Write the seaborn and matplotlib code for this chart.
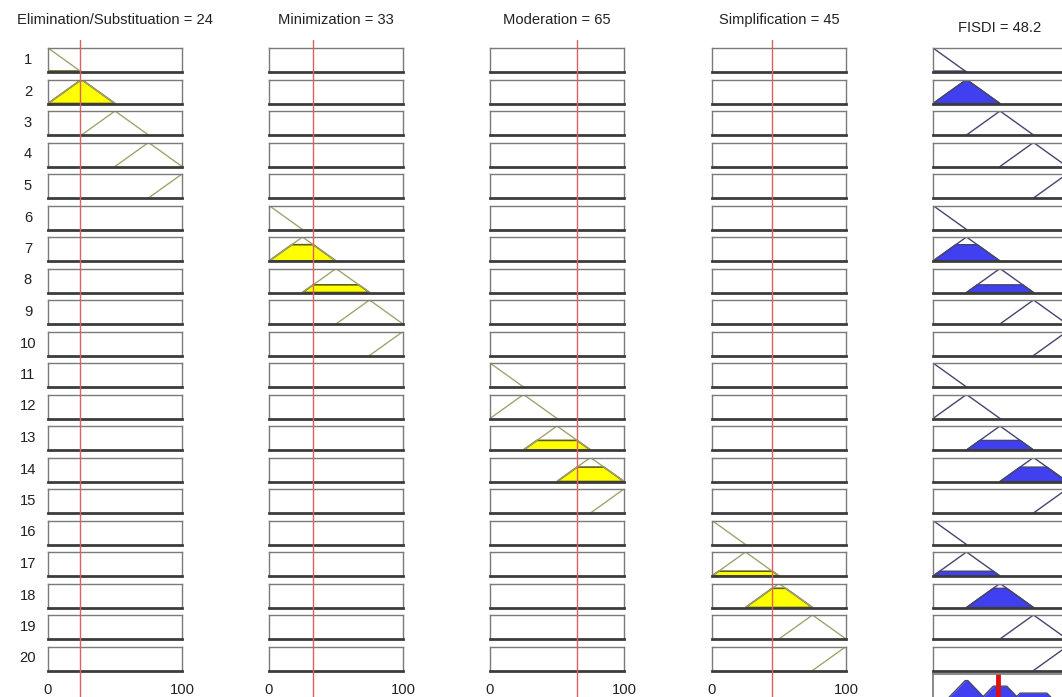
import numpy as np
import matplotlib
matplotlib.use("Agg")
import matplotlib.pyplot as plt
import seaborn as sns

# inputs / output of the fuzzy system
input_names = ["Elimination/Substituation", "Minimization", "Moderation", "Simplification"]
input_values = [24, 33, 65, 45]
output_name = "FISDI"
output_value = 48.2

# triangular membership functions (same for every variable)
mf_centers = [0, 25, 50, 75, 100]
mf_halfwidth = 25

# each rule: which input it tests, which MF (same MF index for the output)
rule_input = [0, 0, 0, 0, 0, 1, 1, 1, 1, 1, 2, 2, 2, 2, 2, 3, 3, 3, 3, 3]
rule_mf = [0, 1, 2, 3, 4, 0, 1, 2, 3, 4, 0, 1, 2, 3, 4, 0, 1, 2, 3, 4]
# firing strength
rule_strength = [0.04, 0.96, 0, 0, 0, 0, 0.68, 0.32, 0, 0,
                 0, 0, 0.40, 0.60, 0, 0, 0.20, 0.80, 0, 0]

W, H = 1062, 697
col_left = [48, 269, 490, 712, 933]
col_w = 134
row_top0, row_pitch, row_h = 48, 31.5, 24

in_line = "#a3a370"
out_line = "#454570"
yellow = "#ffff00"
yellow_edge = "#5e5e18"
blue = "#4040f0"
box_edge = "#7a7a7a"
base_col = "#3c3c3c"
txt = "#222222"
fs = 10.6

sns.set_theme(style="white")
plt.rcParams["font.family"] = ["Liberation Sans", "DejaVu Sans"]

fig = plt.figure(figsize=(W / 100, H / 100), dpi=100)


def px_axes(left, top, width, height):
    return fig.add_axes([left / W, 1 - (top + height) / H, width / W, height / H])


def style_box(ax):
    ax.set_xlim(0, 100)
    ax.set_ylim(0, 1.0)
    ax.set_xticks([])
    ax.set_yticks([])
    for s in ["top", "left", "right"]:
        ax.spines[s].set_color(box_edge)
        ax.spines[s].set_linewidth(1.0)
    ax.spines["bottom"].set_color(base_col)
    ax.spines["bottom"].set_linewidth(2.0)


def tri(c):
    return [c - mf_halfwidth, c, c + mf_halfwidth], [0, 1, 0]


def clipped(c, h):
    xs = [c - mf_halfwidth, c - mf_halfwidth + mf_halfwidth * h,
          c + mf_halfwidth - mf_halfwidth * h, c + mf_halfwidth]
    return xs, [0, h, h, 0]


for r in range(20):
    top = row_top0 + r * row_pitch
    k = rule_input[r]
    c = mf_centers[rule_mf[r]]
    h = rule_strength[r]
    for col in range(5):
        ax = px_axes(col_left[col], top, col_w, row_h)
        style_box(ax)
        if col == 4:
            if h > 0:
                fx, fy = clipped(c, h)
                ax.fill(fx, fy, facecolor=blue, edgecolor=out_line, lw=1.0)
            tx, ty = tri(c)
            sns.lineplot(x=tx, y=ty, ax=ax, color=out_line, lw=1.0, sort=False)
        elif col == k:
            if h > 0:
                fx, fy = clipped(c, h)
                ax.fill(fx, fy, facecolor=yellow, edgecolor=yellow_edge, lw=1.2)
            tx, ty = tri(c)
            sns.lineplot(x=tx, y=ty, ax=ax, color=in_line, lw=1.0, sort=False)
        ax.set_xlim(0, 100)
        ax.set_ylim(0, 1.0)
        if col == 0:
            ax.text(-0.15, 0.5, str(r + 1), transform=ax.transAxes,
                    ha="center", va="center", fontsize=fs, color=txt)
        if r == 19 and col < 4:
            ax.set_xticks([0, 100])
            ax.set_xticklabels(["0", "100"], fontsize=fs, color=txt)
            ax.tick_params(axis="x", length=0, pad=9)

# red input markers spanning all rows
for k in range(4):
    ov = px_axes(col_left[k], 40, col_w, H - 40)
    ov.set_xlim(0, 100)
    ov.set_ylim(0, 1)
    ov.axis("off")
    ov.axvline(input_values[k], color="#e06060", lw=1.0)
    ov.set_zorder(10)
    ov.patch.set_alpha(0)
    fig.text((col_left[k] + col_w / 2) / W, 1 - 20 / H,
             f"{input_names[k]} = {input_values[k]}",
             ha="center", va="center", fontsize=fs, color=txt)

fig.text((col_left[4] + col_w / 2) / W, 1 - 28 / H, f"{output_name} = {output_value}",
         ha="center", va="center", fontsize=fs, color=txt)

# aggregated output (max of the clipped output MFs)
xg = np.linspace(0, 100, 401)
agg = np.zeros_like(xg)
for r in range(20):
    c = mf_centers[rule_mf[r]]
    mu = np.clip(1 - np.abs(xg - c) / mf_halfwidth, 0, None)
    agg = np.maximum(agg, np.minimum(mu, rule_strength[r]))

axa = px_axes(col_left[4], 674, col_w, 40)
axa.set_xticks([])
axa.set_yticks([])
for s in axa.spines.values():
    s.set_color(box_edge)
axa.fill_between(xg, 0, agg, color=blue, lw=0)
sns.lineplot(x=xg, y=agg, ax=axa, color=out_line, lw=1.0)
axa.axvline(output_value, color="#e01010", lw=3.5)
axa.set_xlim(0, 100)
axa.set_ylim(0, 1.15)

fig.savefig("out.png", dpi=100)
